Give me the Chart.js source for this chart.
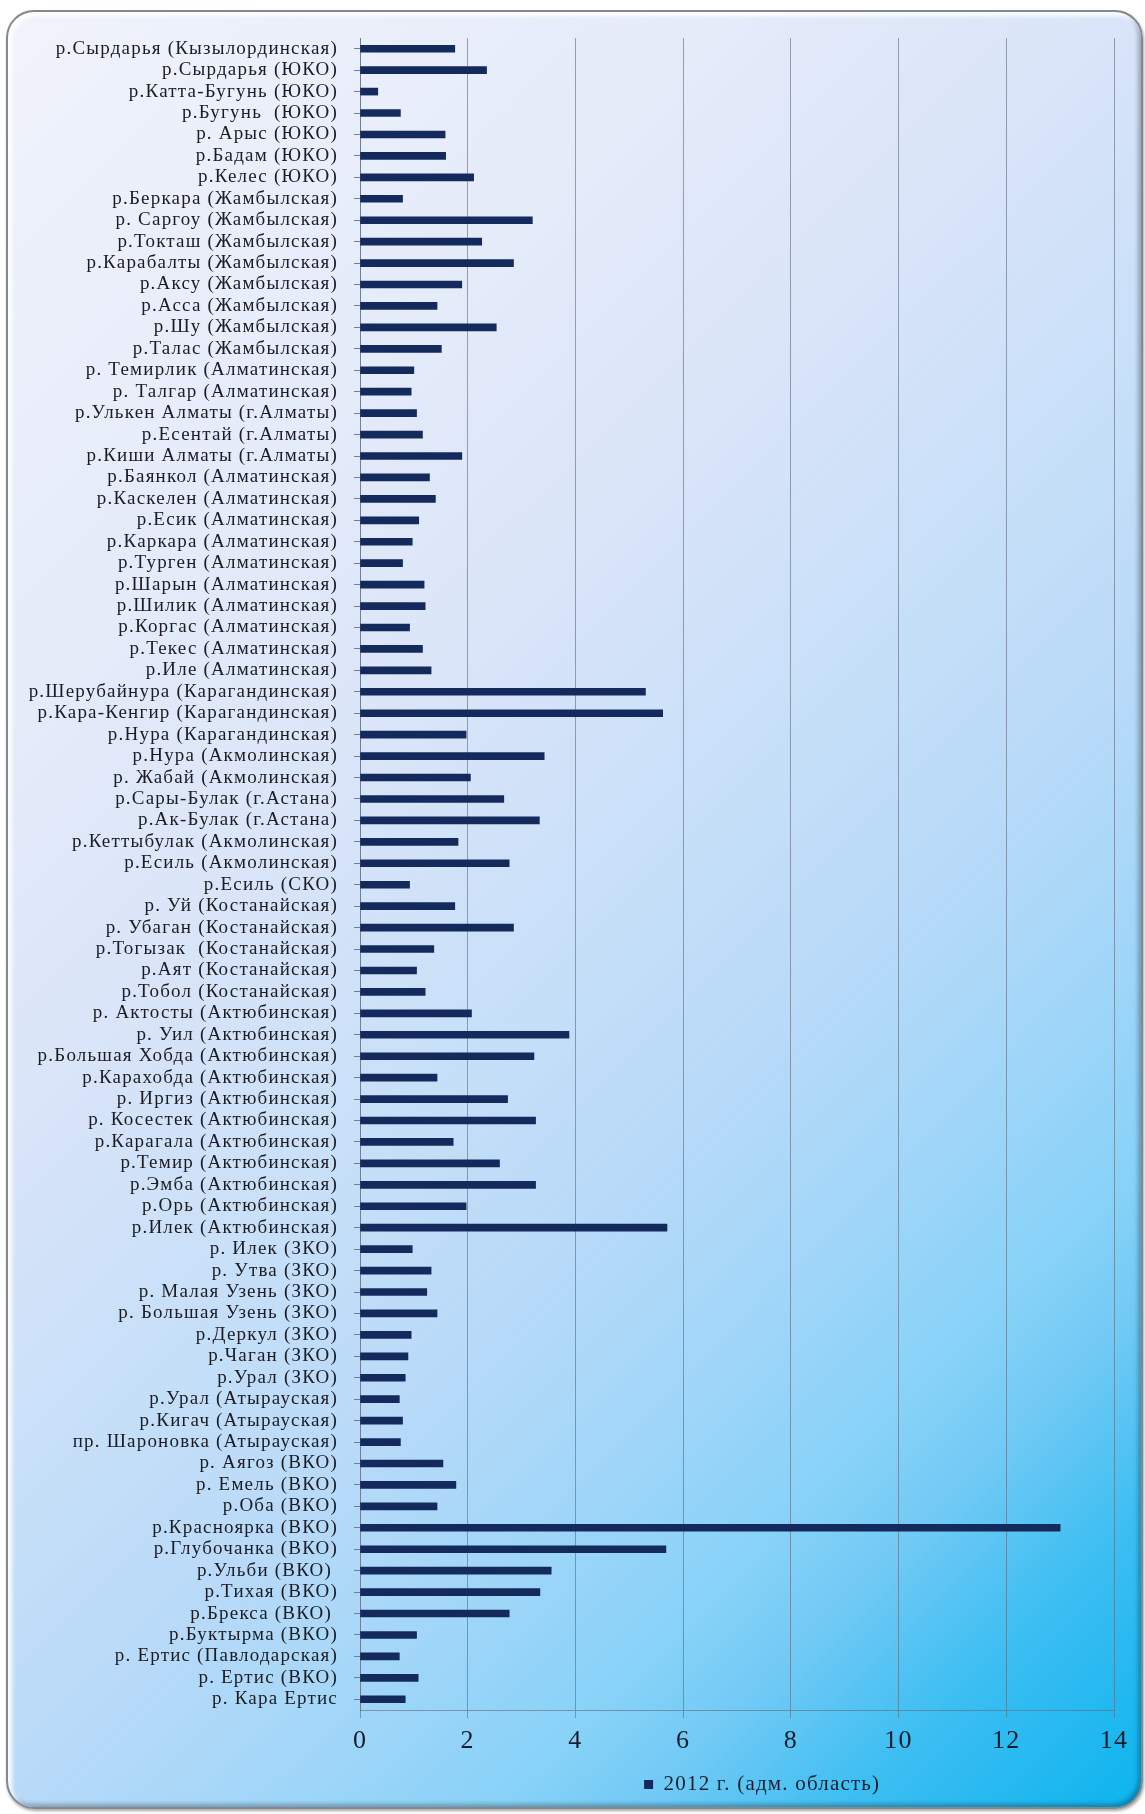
<!DOCTYPE html>
<html><head><meta charset="utf-8">
<script src="https://cdn.jsdelivr.net/npm/chart.js@4.4.1/dist/chart.umd.min.js"></script>
<style>
html,body{margin:0;padding:0;background:#fff;}
#wrap{position:relative;width:1145px;height:1814px;overflow:hidden;}
#frame{position:absolute;left:6px;top:10px;width:1137px;height:1799px;box-sizing:border-box;border-radius:28px;border:2px solid #85888e;
background:linear-gradient(135deg,#f0f3fb 0%,#e4ebf9 25%,#d8e4f8 39%,#c8e0f8 50%,#b8daf8 61%,#acd8f8 66%,#88d2f8 78%,#70caf5 83%,#3cbef2 90%,#0cb4ee 100%);
box-shadow: inset 4px 4px 4px rgba(255,255,255,0.95), inset -3px -3px 4px rgba(0,0,0,0.28), 1px 2px 3px rgba(0,0,0,0.35);}
canvas{position:absolute;left:0;top:0;}
</style></head><body>
<div id="wrap"><div id="frame"></div><canvas id="c" width="1145" height="1814"></canvas></div>
<script>
const categories = [
 'р.Сырдарья (Кызылординская)','р.Сырдарья (ЮКО)','р.Катта-Бугунь (ЮКО)','р.Бугунь  (ЮКО)','р. Арыс (ЮКО)',
 'р.Бадам (ЮКО)','р.Келес (ЮКО)','р.Беркара (Жамбылская)','р. Саргоу (Жамбылская)','р.Токташ (Жамбылская)',
 'р.Карабалты (Жамбылская)','р.Аксу (Жамбылская)','р.Асса (Жамбылская)','р.Шу (Жамбылская)','р.Талас (Жамбылская)',
 'р. Темирлик (Алматинская)','р. Талгар (Алматинская)','р.Улькен Алматы (г.Алматы)','р.Есентай (г.Алматы)','р.Киши Алматы (г.Алматы)',
 'р.Баянкол (Алматинская)','р.Каскелен (Алматинская)','р.Есик (Алматинская)','р.Каркара (Алматинская)','р.Турген (Алматинская)',
 'р.Шарын (Алматинская)','р.Шилик (Алматинская)','р.Коргас (Алматинская)','р.Текес (Алматинская)','р.Иле (Алматинская)',
 'р.Шерубайнура (Карагандинская)','р.Кара-Кенгир (Карагандинская)','р.Нура (Карагандинская)','р.Нура (Акмолинская)','р. Жабай (Акмолинская)',
 'р.Сары-Булак (г.Астана)','р.Ак-Булак (г.Астана)','р.Кеттыбулак (Акмолинская)','р.Есиль (Акмолинская)','р.Есиль (СКО)',
 'р. Уй (Костанайская)','р. Убаган (Костанайская)','р.Тогызак  (Костанайская)','р.Аят (Костанайская)','р.Тобол (Костанайская)',
 'р. Актосты (Актюбинская)','р. Уил (Актюбинская)','р.Большая Хобда (Актюбинская)','р.Карахобда (Актюбинская)','р. Иргиз (Актюбинская)',
 'р. Косестек (Актюбинская)','р.Карагала (Актюбинская)','р.Темир (Актюбинская)','р.Эмба (Актюбинская)','р.Орь (Актюбинская)',
 'р.Илек (Актюбинская)','р. Илек (ЗКО)','р. Утва (ЗКО)','р. Малая Узень (ЗКО)','р. Большая Узень (ЗКО)',
 'р.Деркул (ЗКО)','р.Чаган (ЗКО)','р.Урал (ЗКО)','р.Урал (Атырауская)','р.Кигач (Атырауская)',
 'пр. Шароновка (Атырауская)','р. Аягоз (ВКО)','р. Емель (ВКО)','р.Оба (ВКО)','р.Красноярка (ВКО)',
 'р.Глубочанка (ВКО)','р.Ульби (ВКО) ','р.Тихая (ВКО)','р.Брекса (ВКО) ','р.Буктырма (ВКО)',
 'р. Ертис (Павлодарская)','р. Ертис (ВКО)','р. Кара Ертис'
];
const values2012 = [
 1.76, 2.35, 0.33, 0.75, 1.58,
 1.59, 2.11, 0.79, 3.20, 2.26,
 2.85, 1.89, 1.43, 2.53, 1.51,
 1.00, 0.95, 1.05, 1.16, 1.89,
 1.29, 1.40, 1.09, 0.97, 0.79,
 1.19, 1.21, 0.92, 1.16, 1.32,
 5.30, 5.62, 1.97, 3.42, 2.05,
 2.67, 3.33, 1.82, 2.77, 0.92,
 1.76, 2.85, 1.37, 1.05, 1.21,
 2.07, 3.88, 3.23, 1.43, 2.74,
 3.26, 1.73, 2.59, 3.26, 1.97,
 5.70, 0.97, 1.32, 1.24, 1.43,
 0.95, 0.89, 0.84, 0.73, 0.79,
 0.75, 1.54, 1.78, 1.43, 13.0,
 5.68, 3.55, 3.34, 2.77, 1.05,
 0.73, 1.08, 0.84
];
const seriesLabel = '2012 г. (адм. область)';
const xTickValues = [0, 2, 4, 6, 8, 10, 12, 14];

const serif = "'Liberation Serif', 'Times New Roman', serif";

const spacingPlugin = {
  id: 'spacing',
  beforeDraw(chart) { chart.ctx.letterSpacing = '1.2px'; }
};
const legendShift = {
  id: 'legendShift',
  afterLayout(chart) {
    const lg = chart.legend;
    if (!lg) return;
    const cur = (lg.left + 10 + lg.right) / 2;
    const d = 754 - cur;
    lg.left += d; lg.right += d;
  }
};

new Chart(document.getElementById('c'), {
  type: 'bar',
  data: {
    labels: categories,
    datasets: [{
      label: seriesLabel,
      data: values2012,
      backgroundColor: '#142a5c',
      borderWidth: 0,
      barThickness: 7
    }]
  },
  options: {
    indexAxis: 'y',
    responsive: false,
    animation: false,
    devicePixelRatio: 1,
    layout: { padding: { top: 38, right: 31, bottom: 9, left: 0 } },
    scales: {
      y: {
        type: 'category',
        offset: true,
        grid: { drawOnChartArea: false, drawTicks: true, tickLength: 6, offset: false, color: '#6f7f98' },
        border: { display: true, color: '#6f7f98', width: 1 },
        ticks: { autoSkip: false, padding: 16, color: '#1c1c22', font: { family: serif, size: 19 } },
        afterFit(s) { s.width = 360; }
      },
      x: {
        type: 'linear',
        min: 0, max: 14,
        grid: { color: 'rgba(95,105,125,0.6)', tickLength: 8, drawTicks: true },
        border: { display: true, color: 'rgba(95,105,125,0.6)', width: 1 },
        ticks: { padding: 8, color: '#1a1e2c', font: { family: serif, size: 26 } },
        afterBuildTicks(s) { s.ticks = xTickValues.map(v => ({ value: v })); },
        afterFit(s) { s.height = 54; }
      }
    },
    plugins: {
      legend: {
        position: 'bottom',
        labels: { color: '#1a1e2c', boxWidth: 9, boxHeight: 9, padding: 10, font: { family: serif, size: 21 } }
      },
      tooltip: { enabled: false }
    }
  },
  plugins: [spacingPlugin, legendShift]
});
</script>
</body></html>
